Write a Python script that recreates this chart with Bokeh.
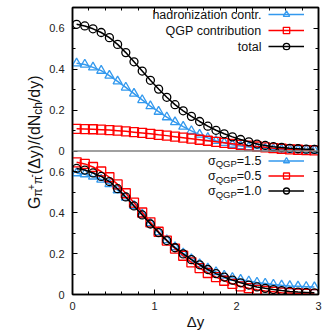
import numpy as np
from bokeh.plotting import figure
from bokeh.layouts import row
from bokeh.models import Range1d, LinearAxis, FixedTicker, Span, Label, Legend, LegendItem
from bokeh.core.properties import value
from bokeh.embed import file_html
from bokeh.resources import INLINE

# ---------------- data ----------------
dy = [0.05, 0.15, 0.25, 0.35, 0.45, 0.55, 0.65, 0.75, 0.85, 0.95,
      1.05, 1.15, 1.25, 1.35, 1.45, 1.55, 1.65, 1.75, 1.85, 1.95,
      2.05, 2.15, 2.25, 2.35, 2.45, 2.55, 2.65, 2.75, 2.85, 2.95]

# top panel
hadron = [0.428, 0.422, 0.408, 0.392, 0.368, 0.340, 0.310, 0.280, 0.249, 0.219,
          0.192, 0.165, 0.141, 0.119, 0.098, 0.080, 0.064, 0.050, 0.040, 0.031,
          0.024, 0.019, 0.015, 0.012, 0.009, 0.007, 0.006, 0.005, 0.004, 0.003]
qgp = [0.108, 0.107, 0.106, 0.104, 0.102, 0.099, 0.096, 0.092, 0.088, 0.084,
       0.079, 0.075, 0.070, 0.065, 0.060, 0.055, 0.050, 0.045, 0.040, 0.035,
       0.030, 0.026, 0.022, 0.018, 0.014, 0.011, 0.008, 0.006, 0.004, 0.003]
total = [0.618, 0.610, 0.596, 0.578, 0.553, 0.520, 0.480, 0.435, 0.390, 0.345,
         0.302, 0.262, 0.226, 0.196, 0.169, 0.144, 0.121, 0.101, 0.084, 0.069,
         0.056, 0.045, 0.034, 0.027, 0.021, 0.017, 0.013, 0.011, 0.009, 0.008]

# bottom panel
sig15 = [0.592, 0.587, 0.576, 0.561, 0.539, 0.509, 0.473, 0.433, 0.391, 0.348,
         0.305, 0.266, 0.231, 0.201, 0.173, 0.149, 0.128, 0.110, 0.093, 0.082,
         0.073, 0.065, 0.059, 0.054, 0.049, 0.045, 0.042, 0.040, 0.038, 0.036]
sig05 = [0.645, 0.637, 0.622, 0.600, 0.572, 0.537, 0.494, 0.448, 0.400, 0.352,
         0.306, 0.263, 0.224, 0.189, 0.157, 0.129, 0.105, 0.085, 0.067, 0.052,
         0.040, 0.031, 0.023, 0.017, 0.013, 0.009, 0.007, 0.005, 0.003, 0.002]
sig10 = [0.615, 0.607, 0.593, 0.576, 0.551, 0.516, 0.476, 0.432, 0.388, 0.344,
         0.302, 0.263, 0.228, 0.198, 0.170, 0.145, 0.122, 0.102, 0.085, 0.070,
         0.057, 0.046, 0.037, 0.030, 0.024, 0.019, 0.015, 0.012, 0.010, 0.008]

top_names = ["hadronization contr.", "QGP contribution", "total"]
sigma_values = ["1.5", "0.5", "1.0"]

x_ticks = [0, 1, 2, 3]
x_minor = [0.2, 0.4, 0.6, 0.8, 1.2, 1.4, 1.6, 1.8, 2.2, 2.4, 2.6, 2.8]
y_ticks = [0, 0.2, 0.4, 0.6]
y_tick_labels = ["0", "0.2", "0.4", "0.6"]
y_minor = [0.1, 0.3, 0.5]
panel_max = 0.7

# ---------------- style ----------------
FONT = "Liberation Sans"
BLUE = "#3399ee"
RED = "#ff0000"
BLACK = "#000000"
TXT = "#111111"
STRIP_W = 46
FIG_H = 332
TOP_B, BOT_B = 7, 37

p = figure(width=332 - STRIP_W, height=FIG_H, x_range=Range1d(0, 3),
           y_range=Range1d(0, 2 * panel_max),
           output_backend="svg", toolbar_location=None,
           x_axis_type=None, y_axis_type=None,
           min_border_left=71 - STRIP_W, min_border_right=14,
           min_border_top=TOP_B, min_border_bottom=BOT_B)
p.extra_y_ranges = {"top": Range1d(-panel_max, panel_max)}
p.outline_line_color = "black"
p.outline_line_width = 1.5

# combined tick positions for both panels (top panel shifted by its range)
left_major = list(y_ticks) + [round(t + panel_max, 6) for t in y_ticks]
left_minor = list(y_minor) + [round(t + panel_max, 6) for t in y_minor]
overrides = {}
for t, lab_txt in zip(y_ticks, y_tick_labels):
    overrides[t] = lab_txt
    overrides[round(t + panel_max, 6)] = lab_txt


def style_axis(ax, labels, ticks):
    ax.major_tick_in = 5
    ax.major_tick_out = 0
    ax.minor_tick_in = 3
    ax.minor_tick_out = 0
    ax.axis_line_color = "black"
    ax.axis_line_width = 1.5
    ax.major_tick_line_color = "black"
    ax.minor_tick_line_color = "black"
    ax.major_tick_line_width = 1
    ax.minor_tick_line_width = 1
    if labels:
        ax.major_label_text_font = FONT
        ax.major_label_text_font_size = "11px"
        ax.major_label_text_color = "#222222"
        ax.major_label_standoff = 8
    else:
        ax.major_label_text_font_size = "0px"
        ax.major_label_standoff = 0
        ax.major_label_overrides = {t: "" for t in ticks}


for place, has_lab in (("left", True), ("right", False)):
    ax = LinearAxis(ticker=FixedTicker(ticks=left_major, minor_ticks=left_minor))
    style_axis(ax, has_lab, left_major)
    if has_lab:
        ax.major_label_overrides = overrides
    p.add_layout(ax, place)

for place, has_lab in (("below", True), ("above", False)):
    ax = LinearAxis(ticker=FixedTicker(ticks=x_ticks, minor_ticks=x_minor))
    style_axis(ax, has_lab, x_ticks)
    if has_lab:
        ax.major_label_standoff = 7
        ax.axis_label = "Δy"
        ax.axis_label_standoff = 0
        ax.axis_label_text_font = FONT
        ax.axis_label_text_font_size = "15px"
        ax.axis_label_text_font_style = "normal"
        ax.axis_label_text_color = TXT
    p.add_layout(ax, place)

# boundary between the two panels
p.add_layout(Span(location=panel_max, dimension="width",
                  line_color="#808080", line_width=1.5))


def series(y, color, marker, size, rng):
    kw = {} if rng is None else {"y_range_name": rng}
    l = p.line(dy, y, line_color=color, line_width=1.5, **kw)
    s = p.scatter(dy, y, marker=marker, size=size, fill_color=None,
                  line_color=color, line_width=1.3, **kw)
    return [l, s]


top_r = [series(hadron, BLUE, "triangle", 9, "top"),
         series(qgp, RED, "square", 9, "top"),
         series(total, BLACK, "circle", 8, "top")]
bot_r = [series(sig15, BLUE, "triangle", 9, None),
         series(sig05, RED, "square", 9, None),
         series(sig10, BLACK, "circle", 8, None)]


def make_legend(renderers, loc, gh):
    leg = Legend(items=[LegendItem(label=value(""), renderers=r) for r in renderers],
                 location=loc, glyph_width=36, glyph_height=gh, spacing=0,
                 padding=0, margin=0, label_width=0, label_height=0,
                 label_standoff=0, label_text_font_size="1px",
                 background_fill_alpha=0, border_line_alpha=0)
    p.add_layout(leg)


make_legend(top_r, (196, 240), 16)
make_legend(bot_r, (196, 96.5), 15)

# legend texts (right aligned, left of the samples)
top_rows_y = [280, 263.5, 248]
for name, yy in zip(top_names, top_rows_y):
    p.add_layout(Label(x=189, y=yy, x_units="screen", y_units="screen", text=name,
                       text_align="right", text_baseline="middle",
                       text_font=FONT, text_font_size="12.5px", text_color=TXT))

bot_rows_y = [134, 118.5, 103.5]
for sv, yy in zip(sigma_values, bot_rows_y):
    tail = "=" + sv
    w_tail = 12.5 * 1.974
    w_sub = 9.5 * 2.223
    p.add_layout(Label(x=189, y=yy, x_units="screen", y_units="screen", text=tail,
                       text_align="right", text_baseline="middle",
                       text_font=FONT, text_font_size="12.5px", text_color=TXT))
    p.add_layout(Label(x=189 - w_tail, y=yy - 3, x_units="screen", y_units="screen",
                       text="QGP", text_align="right", text_baseline="middle",
                       text_font=FONT, text_font_size="9.5px", text_color=TXT))
    p.add_layout(Label(x=189 - w_tail - w_sub, y=yy, x_units="screen", y_units="screen",
                       text="σ", text_align="right", text_baseline="middle",
                       text_font=FONT, text_font_size="12.5px", text_color=TXT))

# ---------------- y axis title (separate strip, rotated pieces) ----------------
# the strip's frame is aligned with the main frame, so its range is given in
# page pixels measured from the top of the picture
lab = figure(width=STRIP_W, height=FIG_H, x_range=Range1d(0, STRIP_W),
             y_range=Range1d(FIG_H - BOT_B, TOP_B),
             output_backend="svg", toolbar_location=None, title=None,
             x_axis_type=None, y_axis_type=None, min_border=0,
             min_border_left=0, min_border_right=0, min_border_top=0,
             min_border_bottom=0)
lab.outline_line_color = None

W = {"G": .778, "π": .56, "+": .584, "-": .333, "(": .333, "Δ": .668, "y": .5,
     ")": .333, "/": .278, "d": .556, "N": .722, "c": .5, "h": .556}
MAIN, SUB, SUP = 16, 12, 10
pieces = [("G", MAIN, 0), ("π", SUB, 3.5), ("+", SUP, -3.5), ("π", SUB, 3.5),
          ("-", SUP, -3.5), ("(Δy)/(dN", MAIN, 0), ("ch", SUB, 3.5), ("/dy)", MAIN, 0)]
base_x = 33.5
pos = 209.3   # picture pixels from the top, text grows upward
for txt, fs, shift in pieces:
    lab.add_layout(Label(x=base_x + shift, y=pos,
                         text=txt, angle=np.pi / 2, text_align="left",
                         text_baseline="alphabetic", text_font=FONT,
                         text_font_size=f"{fs}px", text_color=TXT))
    pos -= sum(W.get(ch, 0.55) for ch in txt) * fs

layout = row(lab, p)
open("out.html", "w").write(file_html(layout, INLINE))
